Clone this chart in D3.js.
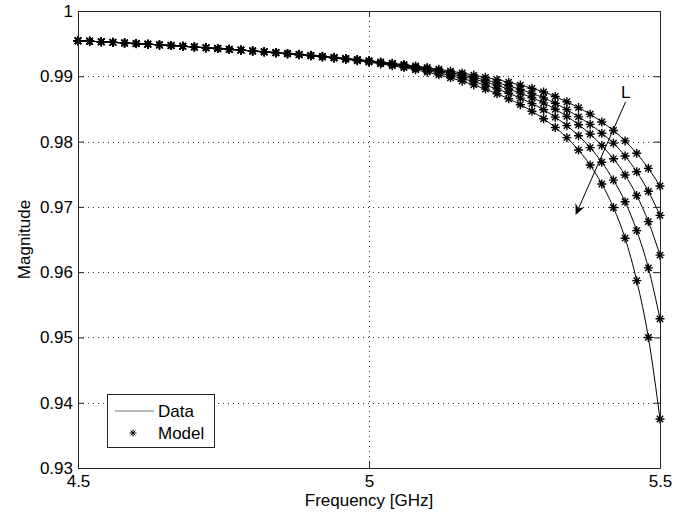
<!DOCTYPE html>
<html lang="en">
<head>
	<meta charset="utf-8" />
	<title>Magnitude vs Frequency</title>
	<script type="text/javascript" src="https://d3js.org/d3.v7.min.js"></script>
	<style>
		body { margin: 0; background: #fff; }
		svg { display: block; font-family: Arial, "Liberation Sans", sans-serif; }
	</style>
</head>
<body>
<script type="text/javascript">

	// frequency points (GHz), one model marker at each
	var freq = [4.50, 4.52, 4.54, 4.56, 4.58, 4.60, 4.62, 4.64, 4.66, 4.68,
		4.70, 4.72, 4.74, 4.76, 4.78, 4.80, 4.82, 4.84, 4.86, 4.88,
		4.90, 4.92, 4.94, 4.96, 4.98, 5.00, 5.02, 5.04, 5.06, 5.08,
		5.10, 5.12, 5.14, 5.16, 5.18, 5.20, 5.22, 5.24, 5.26, 5.28,
		5.30, 5.32, 5.34, 5.36, 5.38, 5.40, 5.42, 5.44, 5.46, 5.48, 5.50];

	// magnitude, one array per L (shortest on top)
	var magL1 = [.99545, .99537, .99529, .99520, .99511, .99502, .99492, .99482, .99472, .99461,
		.99450, .99439, .99427, .99415, .99403, .99390, .99377, .99364, .99350, .99336,
		.99321, .99306, .99290, .99274, .99257, .99240, .99220, .99200, .99180, .99158,
		.99134, .99108, .99080, .99050, .99018, .98984, .98948, .98910, .98865, .98815,
		.98760, .98690, .98610, .98520, .98420, .98300, .98170, .98010, .97820, .97590, .97320];
	var magL2 = [.99545, .99537, .99529, .99520, .99511, .99502, .99492, .99482, .99472, .99460,
		.99449, .99438, .99426, .99414, .99402, .99389, .99376, .99363, .99348, .99334,
		.99319, .99304, .99287, .99271, .99253, .99235, .99213, .99192, .99170, .99145,
		.99118, .99089, .99057, .99023, .98985, .98944, .98901, .98854, .98799, .98738,
		.98670, .98586, .98489, .98379, .98264, .98127, .97976, .97779, .97537, .97238, .96870];
	var magL3 = [.99545, .99537, .99529, .99520, .99510, .99501, .99491, .99481, .99471, .99460,
		.99449, .99438, .99426, .99413, .99401, .99388, .99375, .99362, .99347, .99333,
		.99318, .99302, .99285, .99268, .99249, .99230, .99208, .99184, .99161, .99134,
		.99105, .99073, .99037, .98999, .98956, .98910, .98860, .98805, .98742, .98672,
		.98592, .98495, .98385, .98258, .98116, .97939, .97736, .97489, .97173, .96774, .96260];
	var magL4 = [.99544, .99536, .99528, .99519, .99510, .99501, .99491, .99481, .99471, .99459,
		.99448, .99437, .99425, .99412, .99400, .99387, .99374, .99360, .99345, .99331,
		.99316, .99299, .99282, .99264, .99244, .99224, .99200, .99175, .99149, .99119,
		.99087, .99051, .99011, .98967, .98918, .98864, .98805, .98740, .98666, .98582,
		.98487, .98374, .98244, .98090, .97908, .97683, .97410, .97079, .96636, .96065, .95285];
	var magL5 = [.99544, .99536, .99528, .99519, .99509, .99500, .99490, .99480, .99470, .99458,
		.99447, .99436, .99424, .99411, .99399, .99385, .99372, .99358, .99343, .99329,
		.99313, .99296, .99278, .99259, .99238, .99216, .99190, .99162, .99133, .99100,
		.99063, .99022, .98976, .98925, .98868, .98804, .98733, .98655, .98565, .98465,
		.98350, .98215, .98060, .97870, .97640, .97350, .96990, .96520, .95870, .95000, .93750];

	var xTicks = [4.5, 5, 5.5];
	var yTicks = [0.93, 0.94, 0.95, 0.96, 0.97, 0.98, 0.99, 1];

	// arrow annotation in data units: [freq, magnitude]
	var arrowFrom = [5.441, 0.98611];
	var arrowTo = [5.355, 0.96875];
	var arrowLabel = 'L';

	var curves = [magL1, magL2, magL3, magL4, magL5];

	var width = 695, height = 517;
	var margin = {top: 11, right: 35, bottom: 49, left: 78};
	var fontSize = '17px';

	var svg = d3.select('body').append('svg')
		.attr('width', width)
		.attr('height', height);

	svg.append('rect')
		.attr('width', width)
		.attr('height', height)
		.attr('fill', '#fff');

	var x = d3.scaleLinear()
		.domain([4.5, 5.5])
		.range([margin.left, width - margin.right]);

	var y = d3.scaleLinear()
		.domain([0.93, 1])
		.range([height - margin.bottom, margin.top]);

	// dotted grid
	var grid = svg.append('g').attr('class', 'grid')
		.attr('stroke', '#333')
		.attr('stroke-width', 1)
		.attr('stroke-dasharray', '1,4');

	grid.selectAll('.gy')
		.data(yTicks.slice(1, -1))
		.enter().append('line')
		.attr('x1', x(4.5)).attr('x2', x(5.5))
		.attr('y1', function(d) { return Math.round(y(d)) + 0.5; })
		.attr('y2', function(d) { return Math.round(y(d)) + 0.5; });

	grid.selectAll('.gx')
		.data(xTicks.slice(1, -1))
		.enter().append('line')
		.attr('y1', y(1)).attr('y2', y(0.93))
		.attr('x1', function(d) { return Math.round(x(d)) + 0.5; })
		.attr('x2', function(d) { return Math.round(x(d)) + 0.5; });

	// data lines
	var line = d3.line()
		.x(function(d, i) { return x(freq[i]); })
		.y(function(d) { return y(d); })
		.curve(d3.curveMonotoneX);

	svg.append('g')
		.selectAll('path')
		.data(curves)
		.enter().append('path')
		.attr('d', line)
		.attr('fill', 'none')
		.attr('stroke', '#000')
		.attr('stroke-width', 1);

	// asterisk marker like matlab '*'
	function star(r) {
		var a = r * 0.707;
		return 'M' + (-r) + ',0H' + r + 'M0,' + (-r) + 'V' + r +
			'M' + (-a) + ',' + (-a) + 'L' + a + ',' + a +
			'M' + (-a) + ',' + a + 'L' + a + ',' + (-a);
	}

	var markers = svg.append('g');
	curves.forEach(function(c) {
		markers.append('g')
			.selectAll('path')
			.data(c)
			.enter().append('path')
			.attr('transform', function(d, i) { return 'translate(' + x(freq[i]) + ',' + y(d) + ')'; })
			.attr('d', star(4.5))
			.attr('fill', 'none')
			.attr('stroke', '#000')
			.attr('stroke-width', 1.4);
	});

	// axes, ticks pointing inward
	var fmtY = function(d) { return d === 1 ? '1' : d.toFixed(2); };
	var fmtX = function(d) { return d3.format('')(d); };

	var gx = svg.append('g')
		.attr('transform', 'translate(0,' + y(0.93) + ')')
		.call(d3.axisBottom(x).tickValues(xTicks).tickFormat(fmtX)
			.tickSizeInner(-6).tickSizeOuter(0).tickPadding(7));

	var gy = svg.append('g')
		.attr('transform', 'translate(' + x(4.5) + ',0)')
		.call(d3.axisLeft(y).tickValues(yTicks).tickFormat(fmtY)
			.tickSizeInner(-6).tickSizeOuter(0).tickPadding(5));

	svg.append('g')
		.attr('transform', 'translate(0,' + y(1) + ')')
		.call(d3.axisTop(x).tickValues(xTicks).tickFormat('')
			.tickSizeInner(-6).tickSizeOuter(0));

	svg.append('g')
		.attr('transform', 'translate(' + x(5.5) + ',0)')
		.call(d3.axisRight(y).tickValues(yTicks).tickFormat('')
			.tickSizeInner(-6).tickSizeOuter(0));

	svg.selectAll('.domain, .tick line').attr('stroke', '#222');
	svg.selectAll('.tick text')
		.attr('fill', '#000')
		.style('font-size', fontSize)
		.style('font-family', 'Arial, "Liberation Sans", sans-serif');

	// axis labels
	svg.append('text')
		.attr('x', x(5))
		.attr('y', 506)
		.attr('text-anchor', 'middle')
		.style('font-size', fontSize)
		.text('Frequency [GHz]');

	svg.append('text')
		.attr('transform', 'translate(30,' + y(0.965) + ') rotate(-90)')
		.attr('text-anchor', 'middle')
		.style('font-size', fontSize)
		.text('Magnitude');

	// arrow with L label
	var ax1 = x(arrowFrom[0]), ay1 = y(arrowFrom[1]);
	var ax2 = x(arrowTo[0]), ay2 = y(arrowTo[1]);
	var ang = Math.atan2(ay2 - ay1, ax2 - ax1);
	var headLen = 11, headW = 5, notch = 7;
	function pt(len, off) {
		return [ax2 - len * Math.cos(ang) - off * Math.sin(ang),
			ay2 - len * Math.sin(ang) + off * Math.cos(ang)];
	}
	svg.append('line')
		.attr('x1', ax1).attr('y1', ay1)
		.attr('x2', pt(notch, 0)[0]).attr('y2', pt(notch, 0)[1])
		.attr('stroke', '#000')
		.attr('stroke-width', 1);
	svg.append('path')
		.attr('d', 'M' + [ax2, ay2] + 'L' + pt(headLen, headW) + 'L' + pt(notch, 0) + 'L' + pt(headLen, -headW) + 'Z')
		.attr('fill', '#000');
	svg.append('text')
		.attr('x', ax1)
		.attr('y', y(0.98759))
		.attr('dy', '0.35em')
		.attr('text-anchor', 'middle')
		.style('font-size', fontSize)
		.text(arrowLabel);

	// legend
	var legend = svg.append('g').attr('transform', 'translate(107,394)');
	legend.append('rect')
		.attr('x', 0.5).attr('y', 0.5)
		.attr('width', 107).attr('height', 53)
		.attr('fill', '#fff')
		.attr('stroke', '#222');
	legend.append('line')
		.attr('x1', 8).attr('x2', 47)
		.attr('y1', 17).attr('y2', 17)
		.attr('stroke', '#777');
	legend.append('path')
		.attr('transform', 'translate(26,39)')
		.attr('d', star(3.5))
		.attr('stroke', '#000')
		.attr('stroke-width', 1);
	legend.append('text')
		.attr('x', 51).attr('y', 17).attr('dy', '0.35em')
		.style('font-size', fontSize)
		.text('Data');
	legend.append('text')
		.attr('x', 51).attr('y', 39).attr('dy', '0.35em')
		.style('font-size', fontSize)
		.text('Model');

</script>
</body>
</html>
